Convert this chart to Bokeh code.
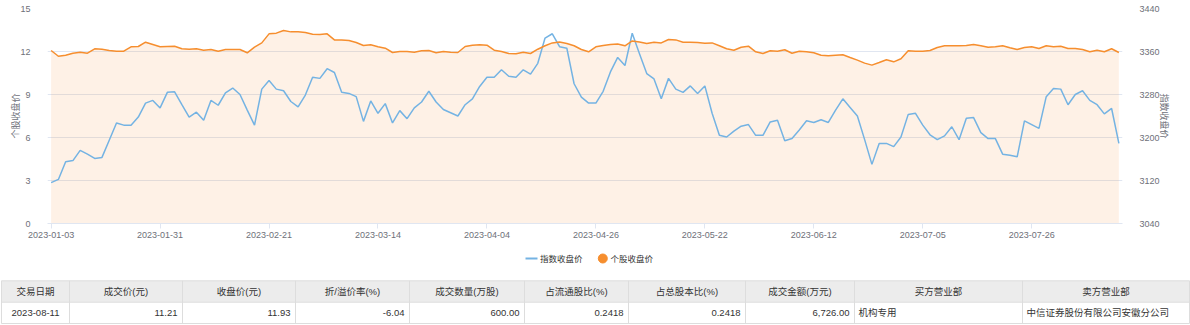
import pandas as pd
from bokeh.plotting import figure
from bokeh.models import Range1d, LinearAxis, FixedTicker, ColumnDataSource
from bokeh.embed import file_html
from bokeh.resources import INLINE
from bokeh.core.properties import value

# ---------------- data ----------------
holidays = ["2023-01-23", "2023-01-24", "2023-01-25", "2023-01-26", "2023-01-27",
            "2023-04-05", "2023-05-01", "2023-05-02", "2023-05-03",
            "2023-06-22", "2023-06-23"]
dates = [d.strftime("%Y-%m-%d") for d in pd.bdate_range("2023-01-03", "2023-08-11")
         if d.strftime("%Y-%m-%d") not in holidays]

stock_close = [
    12.07, 11.67, 11.74, 11.88, 11.95, 11.88, 12.19, 12.16, 12.07, 12.02,
    12.02, 12.33, 12.35, 12.65, 12.49, 12.33, 12.35, 12.37, 12.19, 12.16,
    12.19, 12.09, 12.14, 12.02, 12.14, 12.14, 12.14, 11.91, 12.30, 12.60,
    13.23, 13.28, 13.47, 13.37, 13.37, 13.33, 13.21, 13.19, 13.23, 12.81,
    12.81, 12.77, 12.63, 12.42, 12.47, 12.33, 12.23, 11.93, 12.00, 12.00,
    11.95, 12.05, 12.07, 11.91, 12.00, 11.95, 11.93, 12.35, 12.44, 12.47,
    12.44, 12.09, 12.00, 11.86, 11.84, 11.95, 11.86, 12.16, 12.40, 12.60,
    12.67, 12.56, 12.40, 12.14, 11.98, 12.33, 12.42, 12.49, 12.53, 12.40,
    12.74, 12.67, 12.56, 12.65, 12.60, 12.84, 12.81, 12.65, 12.65, 12.63,
    12.58, 12.60, 12.40, 12.19, 12.09, 12.30, 12.37, 11.98, 11.86, 12.05,
    12.02, 12.12, 11.88, 12.02, 11.98, 11.91, 11.74, 11.70, 11.74, 11.77,
    11.58, 11.40, 11.19, 11.05, 11.23, 11.42, 11.28, 11.49, 12.05, 12.02,
    12.02, 12.07, 12.28, 12.40, 12.40, 12.40, 12.42, 12.49, 12.40, 12.30,
    12.33, 12.40, 12.26, 12.14, 12.28, 12.33, 12.21, 12.40, 12.33, 12.37,
    12.21, 12.21, 12.14, 11.98, 12.09, 11.98, 12.19, 11.93,
]

index_close = [
    3116, 3122, 3155, 3157, 3176, 3169, 3161, 3163, 3195, 3227,
    3223, 3223, 3238, 3264, 3269, 3255, 3284, 3285, 3261, 3238,
    3247, 3232, 3269, 3260, 3283, 3292, 3280, 3251, 3223, 3290,
    3306, 3290, 3287, 3267, 3257, 3279, 3312, 3310, 3328, 3321,
    3284, 3282, 3276, 3230, 3268, 3245, 3263, 3227, 3250, 3235,
    3255, 3266, 3286, 3266, 3252, 3246, 3240, 3261, 3272, 3295,
    3312, 3312, 3326, 3314, 3312, 3326, 3318, 3338, 3385, 3393,
    3369, 3366, 3300, 3275, 3264, 3264, 3286, 3322, 3349, 3334,
    3394, 3356, 3319, 3309, 3272, 3310, 3290, 3284, 3296, 3282,
    3296, 3245, 3204, 3201, 3212, 3221, 3224, 3204, 3204, 3229,
    3232, 3194, 3198, 3214, 3231, 3228, 3233, 3228, 3251, 3272,
    3256, 3240, 3196, 3150, 3189, 3189, 3183, 3201, 3243, 3245,
    3223, 3205, 3196, 3203, 3220, 3196, 3236, 3237, 3209, 3198,
    3198, 3169, 3167, 3164, 3231, 3224, 3217, 3276, 3291, 3290,
    3261, 3280, 3287, 3269, 3261, 3244, 3254, 3189,
]

tick_labels = ["2023-01-03", "2023-01-31", "2023-02-21", "2023-03-14", "2023-04-04",
               "2023-04-26", "2023-05-22", "2023-06-12", "2023-07-05", "2023-07-26"]
left_ticks = [0, 3, 6, 9, 12, 15]
right_ticks = [3040, 3120, 3200, 3280, 3360, 3440]

legend_labels = ["指数收盘价", "个股收盘价"]
left_axis_name = "个股收盘价"
right_axis_name = "指数收盘价"

table_header = ["交易日期", "成交价(元)", "收盘价(元)", "折/溢价率(%)", "成交数量(万股)",
                "占流通股比(%)", "占总股本比(%)", "成交金额(万元)", "买方营业部", "卖方营业部"]
table_row = ["2023-08-11", "11.21", "11.93", "-6.04", "600.00",
             "0.2418", "0.2418", "6,726.00", "机构专用", "中信证券股份有限公司安徽分公司"]
row_align = ["center", "right", "right", "right", "right", "right", "right", "right", "left", "left"]

# ---------------- style ----------------
ORANGE = "#F68E2E"
BLUE = "#74B3E3"
AXIS_COLOR = "#E0E6F1"
LABEL_COLOR = "#6E7079"
FONT = "Liberation Sans, Noto Sans CJK SC"

n = len(dates)
xs = list(range(n))
src = ColumnDataSource(dict(x=xs, date=dates, stock=stock_close, index=index_close))

p = figure(width=1190, height=245, x_range=Range1d(-0.5, n - 0.5), y_range=Range1d(0, 15),
           output_backend="svg", toolbar_location=None,
           min_border_left=47, min_border_right=68, min_border_top=8, min_border_bottom=22,
           outline_line_color=None)
p.extra_y_ranges = {"idx": Range1d(3040, 3440)}

p.varea(x="x", y1=0, y2="stock", source=src, fill_color=ORANGE, fill_alpha=0.12)
p.line("x", "index", source=src, color=BLUE, line_width=1.5, y_range_name="idx")
p.line("x", "stock", source=src, color=ORANGE, line_width=1.5)

# x axis
tick_pos = [dates.index(t) for t in tick_labels]
xa = p.xaxis[0]
xa.ticker = FixedTicker(ticks=tick_pos)
xa.major_label_overrides = {pos: lab for pos, lab in zip(tick_pos, tick_labels)}
xa.axis_line_color = AXIS_COLOR
xa.axis_line_width = 1
xa.major_tick_line_color = AXIS_COLOR
xa.major_tick_out = 5
xa.major_tick_in = 0
xa.minor_tick_line_color = None
xa.major_label_standoff = 3
xa.major_label_text_font_size = "9px"
xa.major_label_text_color = LABEL_COLOR
xa.major_label_text_font = FONT

# left axis
ya = p.yaxis[0]
ya.ticker = FixedTicker(ticks=left_ticks)
ya.axis_line_color = None
ya.major_tick_line_color = None
ya.minor_tick_line_color = None
ya.major_label_standoff = 11
ya.major_label_text_font_size = "9px"
ya.major_label_text_color = LABEL_COLOR
ya.major_label_text_font = FONT
ya.axis_label = left_axis_name
ya.axis_label_text_font_size = "9px"
ya.axis_label_text_font_style = "normal"
ya.axis_label_text_color = LABEL_COLOR
ya.axis_label_text_font = FONT
ya.axis_label_standoff = -4

# right axis
ra = LinearAxis(y_range_name="idx", ticker=FixedTicker(ticks=right_ticks))
ra.axis_line_color = None
ra.major_tick_line_color = None
ra.minor_tick_line_color = None
ra.major_label_standoff = 11
ra.major_label_text_font_size = "9px"
ra.major_label_text_color = LABEL_COLOR
ra.major_label_text_font = FONT
ra.axis_label = right_axis_name
ra.axis_label_text_font_size = "9px"
ra.axis_label_text_font_style = "normal"
ra.axis_label_text_color = LABEL_COLOR
ra.axis_label_text_font = FONT
ra.axis_label_standoff = -4
p.add_layout(ra, "right")

p.xgrid.visible = False
p.ygrid.ticker = FixedTicker(ticks=left_ticks)
p.ygrid.grid_line_color = AXIS_COLOR

# ---------------- legend + table ----------------
H2 = 80
q = figure(width=1190, height=H2, x_range=Range1d(0, 1190), y_range=Range1d(H2, 0),
           output_backend="svg", toolbar_location=None, min_border=0,
           min_border_left=0, min_border_right=0, min_border_top=0, min_border_bottom=0,
           outline_line_color=None, x_axis_type=None, y_axis_type=None)
q.xgrid.visible = False
q.ygrid.visible = False

# legend
leg_y = 13
q.segment(x0=[525], y0=[leg_y], x1=[537], y1=[leg_y], line_color=BLUE, line_width=2)
q.scatter(x=[602.3], y=[leg_y], size=9, fill_color=ORANGE, line_color=ORANGE, marker="circle")
q.text(x=[539.5, 610], y=[leg_y, leg_y], text=legend_labels, text_font=value(FONT),
       text_font_size="8.5px", text_color="#333333", text_baseline="middle", text_align="left")

# table
col_edges = [1, 69, 182, 295, 409, 524, 628, 745, 854, 1022, 1189]
t_top, t_mid, t_bot = 35.3, 56.7, 78.0
q.quad(left=[col_edges[0]], right=[col_edges[-1]], top=[t_top], bottom=[t_mid],
       fill_color="#ECECEC", line_color=None)
hx0 = [col_edges[0]] * 3
hx1 = [col_edges[-1]] * 3
hy = [t_top, t_mid, t_bot]
q.segment(x0=hx0, y0=hy, x1=hx1, y1=hy, line_color="#DDDDDD", line_width=1)
q.segment(x0=col_edges, y0=[t_top] * len(col_edges), x1=col_edges, y1=[t_bot] * len(col_edges),
          line_color="#DDDDDD", line_width=1)

centers = [(a + b) / 2 for a, b in zip(col_edges[:-1], col_edges[1:])]
q.text(x=centers, y=[(t_top + t_mid) / 2] * len(centers), text=table_header,
       text_font=value(FONT), text_font_size="9.5px", text_color="#333333",
       text_baseline="middle", text_align="center")

row_x = []
for i, al in enumerate(row_align):
    if al == "center":
        row_x.append(centers[i])
    elif al == "right":
        row_x.append(col_edges[i + 1] - 5)
    else:
        row_x.append(col_edges[i] + 4)
rsrc = ColumnDataSource(dict(x=row_x, y=[(t_mid + t_bot) / 2] * len(row_x), text=table_row, align=row_align))
q.text(x="x", y="y", text="text", text_align="align", source=rsrc,
       text_font=value(FONT), text_font_size="9.5px", text_color="#333333",
       text_baseline="middle")

open("out.html", "w").write(file_html([p, q], INLINE))
